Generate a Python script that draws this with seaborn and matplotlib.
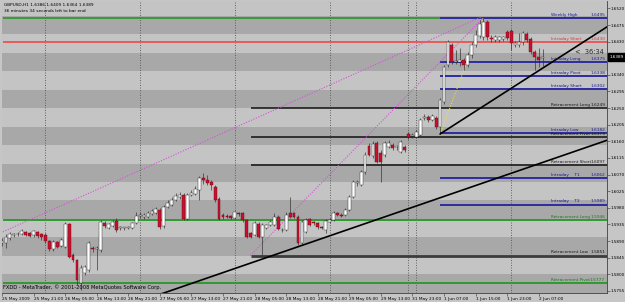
import numpy as np
import pandas as pd
import matplotlib
matplotlib.use("Agg")
import matplotlib.pyplot as plt
import seaborn as sns
from matplotlib.patches import Rectangle

# ---------------- data (GBPUSD H1) ----------------
opens = [
1.5885, 1.5885, 1.5899, 1.5907, 1.5909, 1.5909, 1.5915, 1.5912, 1.5907, 1.5915,
1.5909, 1.5907, 1.5890, 1.5869, 1.5887, 1.5877, 1.5874, 1.5937, 1.5853, 1.5839,
1.5777, 1.5804, 1.5812, 1.5872, 1.5869, 1.5866, 1.5939, 1.5926, 1.5931, 1.5945,
1.5926, 1.5926, 1.5926, 1.5926, 1.5939, 1.5958, 1.5955, 1.5955, 1.5963, 1.5966,
1.5974, 1.5931, 1.5982, 1.5988, 1.6001, 1.6009, 1.6015, 1.5950, 1.6015, 1.6017,
1.6028, 1.6061, 1.6055, 1.6050, 1.6036, 1.6004, 1.5961, 1.5958, 1.5958, 1.5953,
1.5966, 1.5966, 1.5947, 1.5912, 1.5907, 1.5937, 1.5901, 1.5926, 1.5934, 1.5934,
1.5955, 1.5920, 1.5920, 1.5966, 1.5966, 1.5955, 1.5885, 1.5915, 1.5950, 1.5942,
1.5939, 1.5928, 1.5920, 1.5942, 1.5947, 1.5966, 1.5961, 1.5961, 1.5974, 1.6009,
1.6047, 1.6042, 1.6077, 1.6147, 1.6120, 1.6156, 1.6129, 1.6123, 1.6145, 1.6150,
1.6145, 1.6131, 1.6145, 1.6180, 1.6175, 1.6172, 1.6177, 1.6223, 1.6226, 1.6218,
1.6223, 1.6199, 1.6267, 1.6367, 1.6421, 1.6375, 1.6375, 1.6380, 1.6367, 1.6394,
1.6421, 1.6445, 1.6443, 1.6483, 1.6440, 1.6434, 1.6434, 1.6437, 1.6456, 1.6459,
1.6421, 1.6421, 1.6429, 1.6451, 1.6437, 1.6402, 1.6388, 1.6386]
closes = [
1.5890, 1.5901, 1.5909, 1.5909, 1.5910, 1.5917, 1.5907, 1.5904, 1.5917, 1.5904,
1.5901, 1.5890, 1.5869, 1.5887, 1.5874, 1.5893, 1.5937, 1.5848, 1.5839, 1.5785,
1.5817, 1.5820, 1.5885, 1.5869, 1.5872, 1.5942, 1.5931, 1.5937, 1.5942, 1.5920,
1.5928, 1.5927, 1.5928, 1.5939, 1.5958, 1.5961, 1.5961, 1.5966, 1.5972, 1.5977,
1.5928, 1.5982, 1.5993, 1.6001, 1.6012, 1.6015, 1.5950, 1.6015, 1.6020, 1.6031,
1.6061, 1.6055, 1.6047, 1.6042, 1.6001, 1.5950, 1.5955, 1.5955, 1.5953, 1.5969,
1.5963, 1.5947, 1.5901, 1.5901, 1.5939, 1.5901, 1.5934, 1.5934, 1.5942, 1.5955,
1.5923, 1.5921, 1.5961, 1.5955, 1.5955, 1.5885, 1.5942, 1.5947, 1.5934, 1.5939,
1.5928, 1.5926, 1.5945, 1.5947, 1.5966, 1.5961, 1.5958, 1.5974, 1.6009, 1.6050,
1.6050, 1.6077, 1.6123, 1.6123, 1.6153, 1.6104, 1.6104, 1.6156, 1.6156, 1.6142,
1.6146, 1.6158, 1.6137, 1.6172, 1.6177, 1.6185, 1.6218, 1.6226, 1.6218, 1.6229,
1.6199, 1.6272, 1.6361, 1.6429, 1.6375, 1.6378, 1.6380, 1.6367, 1.6394, 1.6421,
1.6448, 1.6478, 1.6483, 1.6443, 1.6437, 1.6443, 1.6443, 1.6443, 1.6440, 1.6426,
1.6426, 1.6429, 1.6453, 1.6434, 1.6402, 1.6388, 1.6380, 1.6389]
highs = [
1.5899, 1.5909, 1.5915, 1.5912, 1.5915, 1.5923, 1.5917, 1.5915, 1.5920, 1.5917,
1.5912, 1.5912, 1.5893, 1.5893, 1.5890, 1.5899, 1.5942, 1.5939, 1.5858, 1.5842,
1.5825, 1.5825, 1.5890, 1.5877, 1.5877, 1.5947, 1.5945, 1.5939, 1.5947, 1.5953,
1.5931, 1.5928, 1.5931, 1.5942, 1.5969, 1.5969, 1.5966, 1.5972, 1.5977, 1.5982,
1.5980, 1.5988, 1.6001, 1.6009, 1.6020, 1.6023, 1.6020, 1.6020, 1.6028, 1.6039,
1.6066, 1.6074, 1.6069, 1.6055, 1.6042, 1.6009, 1.5966, 1.5963, 1.5961, 1.5972,
1.5969, 1.5969, 1.5950, 1.5915, 1.5945, 1.5942, 1.5939, 1.5937, 1.5947, 1.5966,
1.5961, 1.5926, 1.5969, 1.6009, 1.5969, 1.5961, 1.5947, 1.5953, 1.5953, 1.5945,
1.5942, 1.5931, 1.5950, 1.5953, 1.5972, 1.5969, 1.5966, 1.5980, 1.6015, 1.6055,
1.6055, 1.6083, 1.6131, 1.6156, 1.6161, 1.6161, 1.6137, 1.6161, 1.6164, 1.6156,
1.6150, 1.6164, 1.6150, 1.6185, 1.6183, 1.6191, 1.6223, 1.6234, 1.6231, 1.6234,
1.6229, 1.6277, 1.6367, 1.6434, 1.6426, 1.6407, 1.6413, 1.6386, 1.6402, 1.6429,
1.6461, 1.6489, 1.6497, 1.6489, 1.6448, 1.6448, 1.6445, 1.6445, 1.6461, 1.6464,
1.6432, 1.6453, 1.6459, 1.6456, 1.6443, 1.6407, 1.6413, 1.6409]
lows = [
1.5877, 1.5872, 1.5893, 1.5901, 1.5904, 1.5907, 1.5904, 1.5901, 1.5901, 1.5899,
1.5893, 1.5885, 1.5863, 1.5863, 1.5872, 1.5874, 1.5872, 1.5845, 1.5834, 1.5771,
1.5758, 1.5798, 1.5806, 1.5861, 1.5812, 1.5861, 1.5926, 1.5923, 1.5928, 1.5915,
1.5920, 1.5920, 1.5923, 1.5923, 1.5937, 1.5953, 1.5950, 1.5953, 1.5961, 1.5963,
1.5923, 1.5926, 1.5980, 1.5985, 1.5999, 1.6004, 1.5947, 1.5947, 1.6012, 1.6015,
1.6001, 1.6045, 1.6042, 1.6028, 1.5996, 1.5947, 1.5950, 1.5953, 1.5950, 1.5950,
1.5958, 1.5942, 1.5899, 1.5899, 1.5904, 1.5899, 1.5853, 1.5923, 1.5931, 1.5931,
1.5920, 1.5915, 1.5917, 1.5953, 1.5953, 1.5880, 1.5882, 1.5912, 1.5931, 1.5934,
1.5923, 1.5923, 1.5912, 1.5939, 1.5945, 1.5958, 1.5955, 1.5958, 1.5972, 1.6007,
1.6039, 1.6039, 1.6072, 1.6120, 1.6115, 1.6101, 1.6050, 1.6118, 1.6142, 1.6137,
1.6137, 1.6129, 1.6131, 1.6166, 1.6169, 1.6169, 1.6175, 1.6218, 1.6212, 1.6215,
1.6193, 1.6180, 1.6261, 1.6361, 1.6369, 1.6369, 1.6364, 1.6353, 1.6361, 1.6386,
1.6415, 1.6440, 1.6434, 1.6434, 1.6429, 1.6429, 1.6429, 1.6432, 1.6434, 1.6407,
1.6415, 1.6415, 1.6421, 1.6429, 1.6396, 1.6353, 1.6361, 1.6364]

x_labels = ["25 May 2009", "25 May 21:00", "26 May 05:00", "26 May 13:00", "26 May 21:00",
            "27 May 05:00", "27 May 13:00", "27 May 21:00", "28 May 05:00", "28 May 13:00",
            "28 May 21:00", "29 May 05:00", "29 May 13:00", "31 May 23:00", "1 Jun 07:00",
            "1 Jun 15:00", "1 Jun 23:00", "2 Jun 07:00"]
y_ticks = [1.6520, 1.6475, 1.6430, 1.6385, 1.6340, 1.6295, 1.6250, 1.6205, 1.6160,
           1.6115, 1.6070, 1.6025, 1.5980, 1.5935, 1.5890, 1.5845, 1.5800, 1.5755]

level_names = ["Weekly High", "Intraday Short", "Intraday Long", "Intraday Pivot",
               "Intraday Short", "Retracement Long", "Intraday Low", "Retracement Pivot",
               "Retracement Short", "Intraday    T1", "Intraday    T2", "Retracement Long",
               "Retracement Low", "Retracement Pivot"]
level_values = [1.6495, 1.6430, 1.6375, 1.6338, 1.6302, 1.6249, 1.6182, 1.6173,
                1.6097, 1.6062, 1.5989, 1.5946, 1.5851, 1.5777]
level_kinds = ["blue", "red", "blue", "blue", "blue", "black", "blue", "black",
               "black", "blue", "blue", "green", "gray", "green"]

last_bar_info = "GBPUSD,H1 1.6386 1.6409 1.6364 1.6389"
last_price = 1.6389

# ---------------- figure ----------------
sns.set_style("white")
plt.rcParams['font.family'] = ['DejaVu Sans']
W, H = 625, 302
fig = plt.figure(figsize=(W / 100, H / 100), dpi=100, facecolor='#c6c6c6')
ax = fig.add_axes([2 / W, 9 / H, 605 / W, 292 / H])

x_lo, x_hi = 0.13, 153.3
y_lo, y_hi = 1.57495, 1.65400
ax.set_xlim(x_lo, x_hi)
ax.set_ylim(y_lo, y_hi)
ax.set_facecolor('#c4c4c4')

# 50-pip background bands
k0 = int(np.floor(y_lo / 0.005))
k1 = int(np.ceil(y_hi / 0.005))
for k in range(k0, k1 + 1):
    col = '#a8a8a8' if k % 2 == 1 else '#c4c4c4'
    ax.axhspan(k * 0.005, (k + 1) * 0.005, color=col, lw=0, zorder=0)

# vertical dotted grid
for gb in [11, 35, 59, 83, 103, 105, 129]:
    ax.axvline(gb, color='#555555', lw=0.6, ls=(0, (1.2, 1.8)), zorder=1)

# level lines
colmap = {"blue": '#2c2ca0', "red": '#e85a5a', "black": '#101010',
          "green": '#2f9a2f', "gray": '#3c3c3c'}
txtcol = {"blue": '#1c1c90', "red": '#d83a3a', "black": '#1a1a1a',
          "green": '#1e7a1e', "gray": '#1a1a1a'}
ax.hlines(level_values[0], x_lo, x_hi, color='#2f9a2f', lw=1.3, zorder=2)
for name, val, kind in zip(level_names, level_values, level_kinds):
    if kind in ("red", "green"):
        start, lw = x_lo, 1.4
    elif kind == "blue":
        start, lw = 111, 1.4
    elif kind == "gray":
        start, lw = 63, 2.0
    else:
        start, lw = 63, 1.1
    ax.hlines(val, start, x_hi, color=colmap[kind], lw=lw, zorder=2)
    ax.text(139.1, val + 0.00028, name, fontsize=3.1, color=txtcol[kind],
            ha='left', va='bottom', zorder=7)
    ax.text(152.8, val + 0.00028, f"{val:.4f}", fontsize=3.1, color=txtcol[kind],
            ha='right', va='bottom', zorder=7)

# dotted helper lines
sns.lineplot(x=[-0.4, 121.5], y=[1.5912, 1.6497], ax=ax, color='#d850d8', lw=0.8,
             ls=(0, (1, 1.4)), zorder=2, legend=False)
sns.lineplot(x=[62.9, 122.0], y=[1.5851, 1.6495], ax=ax, color='#d850d8', lw=0.8,
             ls=(0, (1, 1.4)), zorder=2, legend=False)
sns.lineplot(x=[111.0, 122.0], y=[1.6180, 1.6495], ax=ax, color='#e8e040', lw=0.8,
             ls=(0, (1, 1.4)), zorder=2, legend=False)

# candles
df = pd.DataFrame({"bar": np.arange(len(opens)), "open": opens, "high": highs,
                   "low": lows, "close": closes})
up = (df["close"] >= df["open"]).values
body_lo = np.minimum(df["open"], df["close"]).values
body_h = np.maximum(np.abs(df["close"] - df["open"]).values, 0.00012)
ax.vlines(df["bar"], df["low"], df["high"], color='#2a2a2a', lw=0.45, zorder=4)
ax.bar(df["bar"][up], body_h[up], bottom=body_lo[up], width=0.72, color='white',
       edgecolor='#2a2a2a', lw=0.3, zorder=5)
ax.bar(df["bar"][~up], body_h[~up], bottom=body_lo[~up], width=0.72, color='#c8102e',
       edgecolor='#6a0a14', lw=0.3, zorder=5)

# trend lines
sns.lineplot(x=[37.6, 153.3], y=[1.5737, 1.6163], ax=ax, color='black', lw=1.2,
             zorder=6, legend=False)
sns.lineplot(x=[111.0, 153.3], y=[1.6180, 1.6470], ax=ax, color='black', lw=1.2,
             zorder=6, legend=False)

# axes ticks (the label under the current-price box is hidden, as in MetaTrader)
ax.yaxis.tick_right()
ax.set_yticks(y_ticks)
ax.set_yticklabels(["" if abs(v - last_price) < 0.0010 else f"{v:.4f}" for v in y_ticks],
                   fontsize=3.0, color='black')
ax.set_xticks([8 * i for i in range(len(x_labels))])
ax.set_xticklabels(x_labels, fontsize=3.1, ha='left', color='black')
ax.tick_params(axis='y', length=2, width=0.4, pad=0.8, right=True, left=False,
               color='#303030')
ax.tick_params(axis='x', length=2, width=0.4, pad=0.6, bottom=True, color='#303030')
for s in ['left', 'top']:
    ax.spines[s].set_visible(False)
for s in ['right', 'bottom']:
    ax.spines[s].set_color('#404040')
    ax.spines[s].set_linewidth(0.6)
ax.grid(False)

# current price box
pos = ax.get_position()
yfrac = pos.y0 + (last_price - y_lo) / (y_hi - y_lo) * pos.height
fig.patches.append(Rectangle((608 / W, yfrac - 4 / H), 17 / W, 8 / H,
                             transform=fig.transFigure, color='black', zorder=10))
fig.text(609.5 / W, yfrac, f"{last_price:.4f}", fontsize=3.0, color='white',
         ha='left', va='center', zorder=11)

# countdown
ax.text(145.2, 1.6402, "<  36:34", fontsize=4.8, color='#2a2a2a', ha='left', va='center',
        zorder=7)

# info texts
fig.text(4 / W, 1 - 5 / H, last_bar_info, fontsize=3.1, color='black', va='center')
fig.text(4 / W, 1 - 11 / H, "36 minutes 34 seconds left to bar end", fontsize=3.1,
         color='black', va='center')
fig.text(3 / W, 1 - 287 / H, "FXDD - MetaTrader, \u00a9 2001-2008 MetaQuotes Software Corp.",
         fontsize=3.7, color='black', va='center')

fig.savefig("out.png", dpi=100, facecolor=fig.get_facecolor())
